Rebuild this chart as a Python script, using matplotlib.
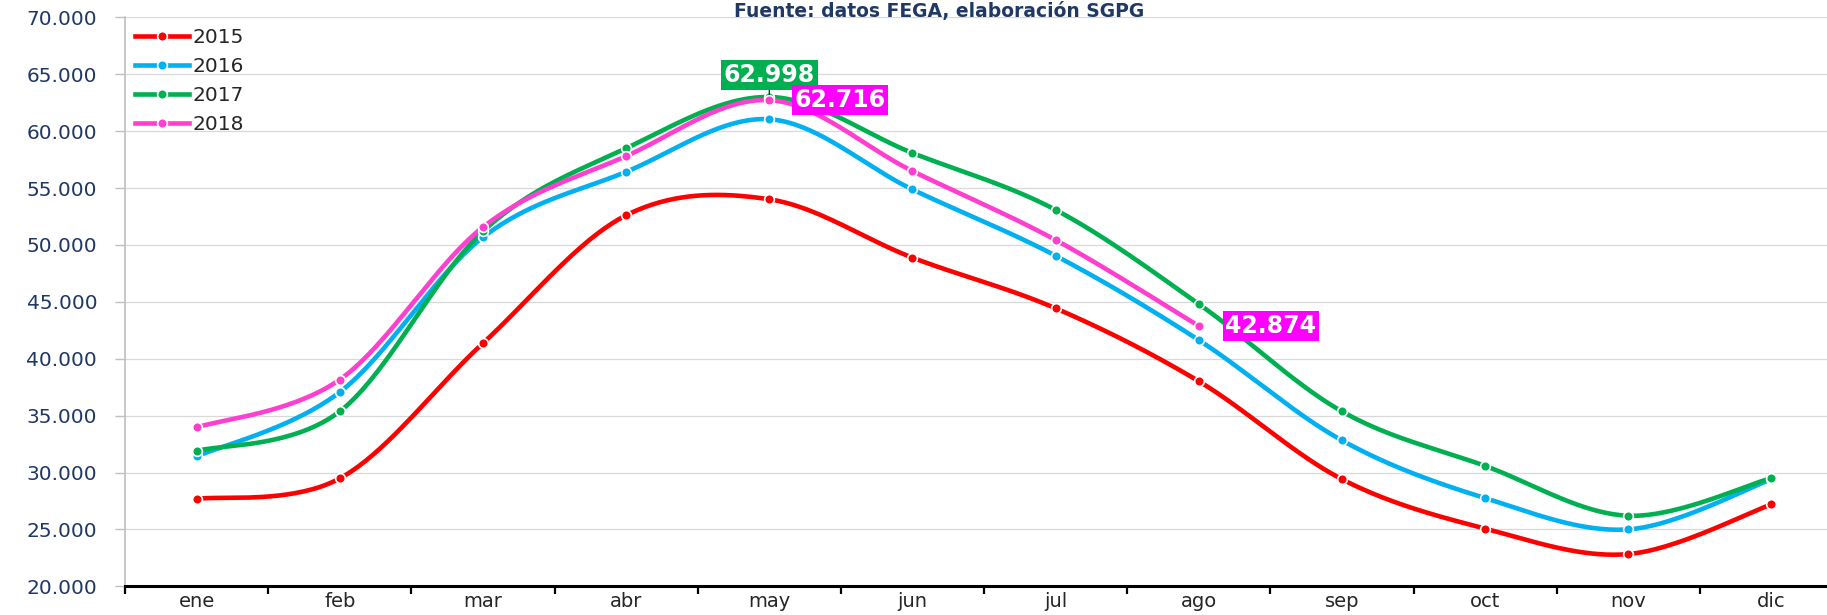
import numpy as np
import matplotlib
matplotlib.use("Agg")
import matplotlib.pyplot as plt
from matplotlib.lines import Line2D
from matplotlib.ticker import FuncFormatter, FixedLocator

months = ["ene", "feb", "mar", "abr", "may", "jun", "jul", "ago", "sep", "oct", "nov", "dic"]

v2015 = [27680, 29480, 41360, 52600, 54010, 48880, 44430, 38020, 29410, 25070, 22830, 27200]
v2016 = [31410, 37060, 50670, 56420, 61040, 54870, 49050, 41640, 32820, 27750, 25000, 29400]
v2017 = [31890, 35370, 51190, 58490, 62998, 58080, 53080, 44810, 35370, 30580, 26200, 29510]
v2018 = [33960, 38160, 51560, 57800, 62716, 56490, 50430, 42874]

years = ["2015", "2016", "2017", "2018"]
series = [v2015, v2016, v2017, v2018]
colors = ["#FF0000", "#00B0F0", "#00B050", "#FF3FCF"]

title = "Fuente: datos FEGA, elaboración SGPG"


def smooth(xs, ys, n=40):
    """Bezier smoothing through every point (Catmull-Rom style, tension 1/6)."""
    xs = np.asarray(xs, float)
    ys = np.asarray(ys, float)
    pts = np.column_stack([xs, ys])
    out = [pts[0:1]]
    t = np.linspace(0, 1, n)[1:, None]
    for i in range(len(pts) - 1):
        p0 = pts[i - 1] if i > 0 else pts[i]
        p1 = pts[i]
        p2 = pts[i + 1]
        p3 = pts[i + 2] if i + 2 < len(pts) else pts[i + 1]
        c1 = p1 + (p2 - p0) / 6.0
        c2 = p2 - (p3 - p1) / 6.0
        seg = ((1 - t) ** 3) * p1 + 3 * ((1 - t) ** 2) * t * c1 + 3 * (1 - t) * t ** 2 * c2 + t ** 3 * p2
        out.append(seg)
    arr = np.vstack(out)
    return arr[:, 0], arr[:, 1]


fig = plt.figure(figsize=(18.27, 6.15), dpi=100)
ax = fig.add_axes([125 / 1827, 28.7 / 615, 1718 / 1827, 569 / 615])

handles = []
for yr, vals, col in zip(years, series, colors):
    x = np.arange(len(vals))
    sx, sy = smooth(x, vals)
    ax.plot(sx, sy, color=col, lw=3.3, solid_capstyle="round", zorder=3)
    ax.plot(x, vals, "o", color=col, ms=7, mec="white", mew=1.2, zorder=4)
    handles.append(Line2D([0], [0], color=col, lw=3.3, marker="o", ms=7,
                          mec="white", mew=1.2, label=yr))

ax.set_xlim(-0.5, 11.5)
ax.set_ylim(20000, 70000)
ax.set_yticks(np.arange(20000, 70001, 5000))
ax.yaxis.set_major_formatter(FuncFormatter(lambda v, p: f"{v:,.0f}".replace(",", ".")))

ax.set_xticks(np.arange(12))
ax.set_xticklabels(months)
ax.xaxis.set_minor_locator(FixedLocator(np.arange(-0.5, 12, 1)))
ax.tick_params(axis="x", which="major", length=0, pad=4, labelsize=14, labelcolor="#262626")
ax.tick_params(axis="x", which="minor", length=6, width=1.6, color="black", direction="out")
ax.tick_params(axis="y", length=7, width=1, color="#BFBFBF", pad=13, labelsize=14.5,
               labelcolor="#1F3864")

ax.grid(axis="y", color="#D9D9D9", lw=0.9)
ax.set_axisbelow(True)
for s in ("top", "right"):
    ax.spines[s].set_visible(False)
ax.spines["left"].set_color("#BFBFBF")
ax.spines["left"].set_linewidth(1.2)
ax.spines["bottom"].set_color("black")
ax.spines["bottom"].set_linewidth(2.2)

leg = ax.legend(handles=handles, loc="upper left", bbox_to_anchor=(135 / 1827, 1 - 28 / 615),
                bbox_transform=fig.transFigure, frameon=False, fontsize=14.5,
                handlelength=2.7, handletextpad=0.15, labelspacing=0.5, borderaxespad=0,
                borderpad=0)
for txt in leg.get_texts():
    txt.set_color("#262626")

box_kw = dict(color="white", fontsize=17, fontweight="bold", ha="center", va="center",
              textcoords="offset points", zorder=6)
ax.annotate(f"{v2017[4]:,.0f}".replace(",", "."), xy=(4, v2017[4]), xytext=(0, 16),
            bbox=dict(boxstyle="square,pad=0.12", fc="#00B050", ec="none"),
            arrowprops=dict(arrowstyle="-", color="black", lw=0.8, shrinkA=0, shrinkB=2),
            **box_kw)
ax.annotate(f"{v2018[4]:,.0f}".replace(",", "."), xy=(4, v2018[4]), xytext=(51, 0),
            bbox=dict(boxstyle="square,pad=0.12", fc="#FF00FF", ec="none"), **box_kw)
ax.annotate(f"{v2018[7]:,.0f}".replace(",", "."), xy=(7, v2018[7]), xytext=(52, 0),
            bbox=dict(boxstyle="square,pad=0.12", fc="#FF00FF", ec="none"), **box_kw)

fig.text(939 / 1827, 1 - 11 / 615, title, ha="center", va="center", fontsize=13.5,
         fontweight="bold", color="#1F3864")

fig.savefig("out.png", dpi=100, facecolor="white")
